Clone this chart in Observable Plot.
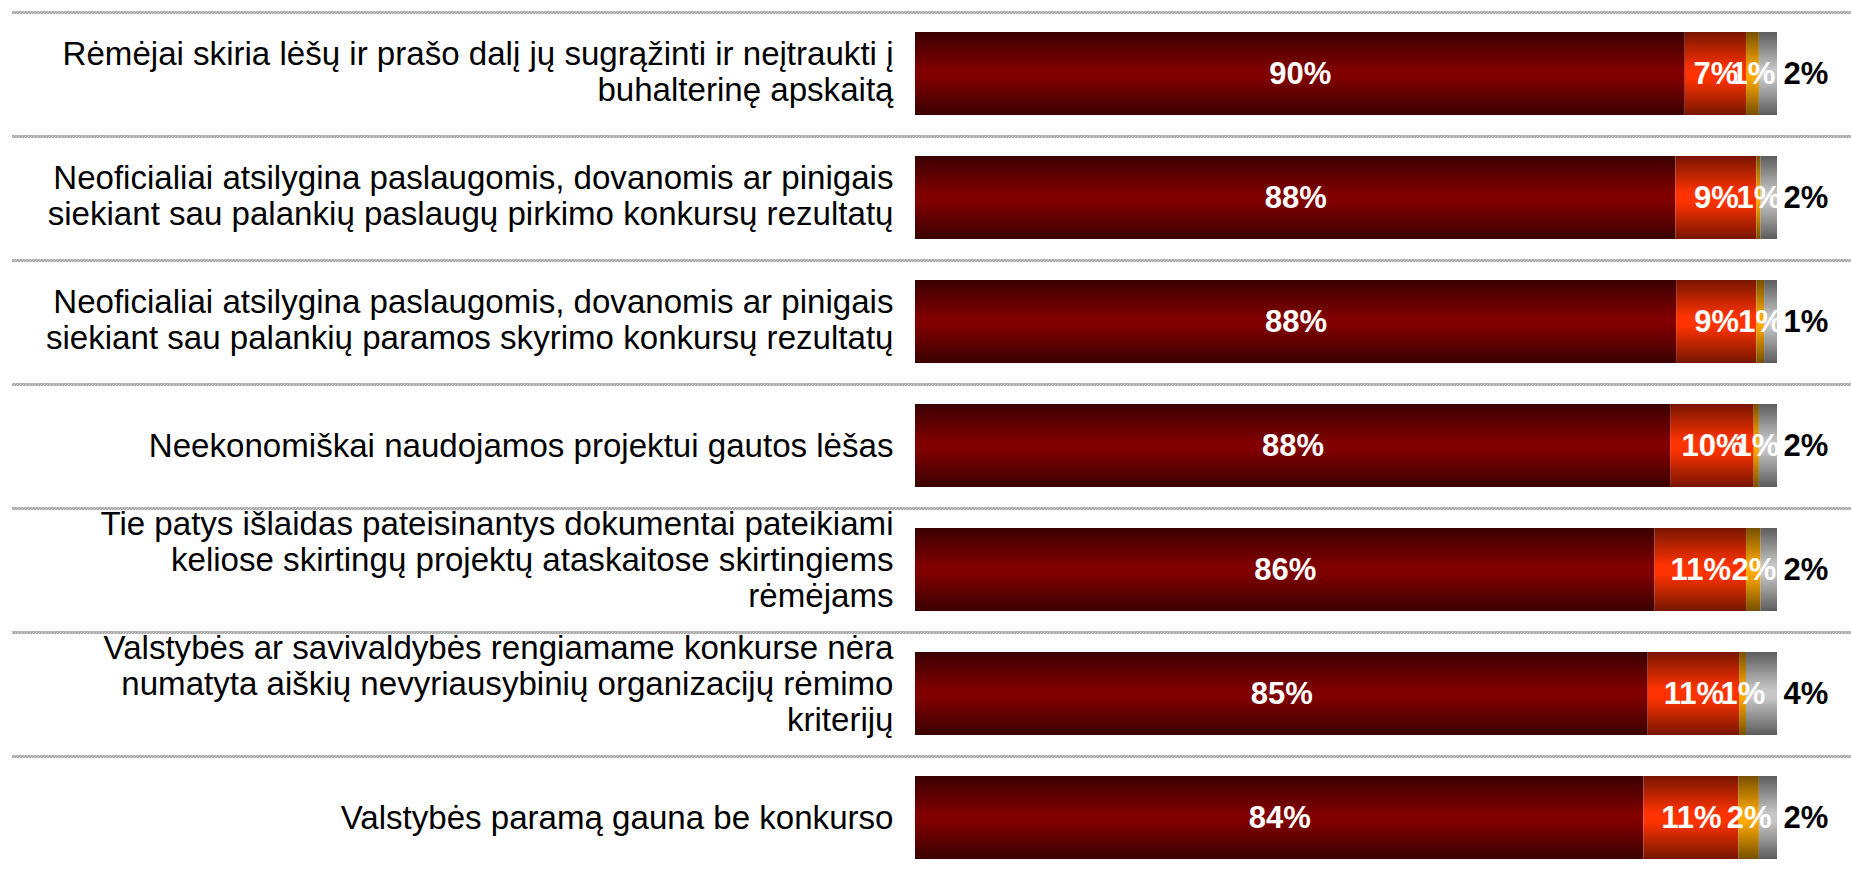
<!DOCTYPE html>
<html><head><meta charset="utf-8">
<script src="https://cdn.jsdelivr.net/npm/d3@7"></script>
<script src="https://cdn.jsdelivr.net/npm/@observablehq/plot@0.6"></script>
<style>html,body{margin:0;padding:0;background:#fff}svg{display:block}</style>
</head><body><div id="chart"></div>
<script>
const categories = [
  "Rėmėjai skiria lėšų ir prašo dalį jų sugrąžinti ir neįtraukti į\nbuhalterinę apskaitą",
  "Neoficialiai atsilygina paslaugomis, dovanomis ar pinigais\nsiekiant sau palankių paslaugų pirkimo konkursų rezultatų",
  "Neoficialiai atsilygina paslaugomis, dovanomis ar pinigais\nsiekiant sau palankių paramos skyrimo konkursų rezultatų",
  "Neekonomiškai naudojamos projektui gautos lėšas",
  "Tie patys išlaidas pateisinantys dokumentai pateikiami\nkeliose skirtingų projektų ataskaitose skirtingiems\nrėmėjams",
  "Valstybės ar savivaldybės rengiamame konkurse nėra\nnumatyta aiškių nevyriausybinių organizacijų rėmimo\nkriterijų",
  "Valstybės paramą gauna be konkurso"
];
const seriesKeys = ["a", "b", "c", "d"];
// segment shares
const valuesA = [89.3, 88.3, 88.3, 87.6, 85.8, 85.0, 84.5];
const valuesB = [7.1, 9.4, 9.3, 9.7, 10.6, 10.6, 11.0];
const valuesC = [1.5, 0.5, 0.9, 0.6, 1.7, 0.8, 2.4];
const valuesD = [2.1, 1.9, 1.5, 2.1, 1.9, 3.6, 2.1];
// printed labels
const labelsA = ["90%", "88%", "88%", "88%", "86%", "85%", "84%"];
const labelsB = ["7%", "9%", "9%", "10%", "11%", "11%", "11%"];
const labelsC = ["1%", "1%", "1%", "1%", "2%", "1%", "2%"];
const labelsD = ["2%", "2%", "1%", "2%", "2%", "4%", "2%"];

const gradients = {
  a: ["#3a0000", "#800000"],
  b: ["#771500", "#ff3300"],
  c: ["#775000", "#ffaa00"],
  d: ["#5c5c5c", "#c6c6c6"]
};

const valueSets = {a: valuesA, b: valuesB, c: valuesC, d: valuesD};
const labelSets = {a: labelsA, b: labelsB, c: labelsC, d: labelsD};
const data = [];
categories.forEach((c, i) => {
  for (const k of seriesKeys) {
    data.push({category: c, series: k, value: valueSets[k][i], label: labelSets[k][i], fill: `url(#grad-${k})`});
  }
});

const nLines = (s) => s.split("\n").length;
const font = "'Liberation Sans', Arial, Helvetica, sans-serif";
const catText = (lines, dy) => Plot.text(categories.filter(c => nLines(c) === lines), {
  x: () => 0, y: d => d, text: d => d, textAnchor: "end", dx: -22, dy,
  fontSize: 33.1, lineHeight: 1.08, fill: "#000", fontFamily: font
});

const svg = Plot.plot({
  width: 1851, height: 873,
  marginLeft: 12, marginRight: 0, marginTop: 0, marginBottom: 0,
  x: {domain: [0, 1], range: [915, 1777], axis: null},
  y: {domain: categories, range: [-10.25, 900.8], padding: 0.332, axis: null},
  color: {type: "identity"},
  style: {fontFamily: font, background: "#fff", overflow: "visible"},
  marks: [
    Plot.ruleY(categories, {y: d => d, dy: -61.5, stroke: "url(#hatch)", strokeWidth: 3}),
    Plot.barX(data, Plot.stackX({x: "value", y: "category", fill: "fill", offset: "normalize"})),
    catText(1, 0),
    catText(2, -2.5),
    catText(3, -10.5),
    Plot.text(data, Plot.stackX({
      x: "value", y: "category", offset: "normalize",
      text: d => d.series === "d" ? "" : d.label,
      fill: "white", fontSize: 31, fontWeight: "bold", fontFamily: font
    })),
    Plot.text(data, Plot.stackX2({
      x: "value", y: "category", offset: "normalize",
      text: d => d.series === "d" ? d.label : "",
      fill: "black", textAnchor: "start", dx: 6, fontSize: 31, fontWeight: "bold", fontFamily: font
    }))
  ]
});

const defs = d3.select(svg).insert("defs", ":first-child");
for (const k of seriesKeys) {
  const [dark, bright] = gradients[k];
  const g = defs.append("linearGradient").attr("id", `grad-${k}`)
    .attr("x1", 0).attr("y1", 0).attr("x2", 0).attr("y2", 1);
  g.append("stop").attr("offset", "0").attr("stop-color", dark);
  g.append("stop").attr("offset", "0.45").attr("stop-color", bright);
  g.append("stop").attr("offset", "0.55").attr("stop-color", bright);
  g.append("stop").attr("offset", "1").attr("stop-color", dark);
}
const pat = defs.append("pattern").attr("id", "hatch").attr("patternUnits", "userSpaceOnUse")
  .attr("width", 3).attr("height", 3);
pat.append("rect").attr("width", 3).attr("height", 3).attr("fill", "#d0d0d0");
pat.append("path").attr("d", "M0,3L3,0M-1,1L1,-1M2,4L4,2").attr("stroke", "#767676").attr("stroke-width", 0.9);

document.getElementById("chart").appendChild(svg);
</script>
</body></html>
